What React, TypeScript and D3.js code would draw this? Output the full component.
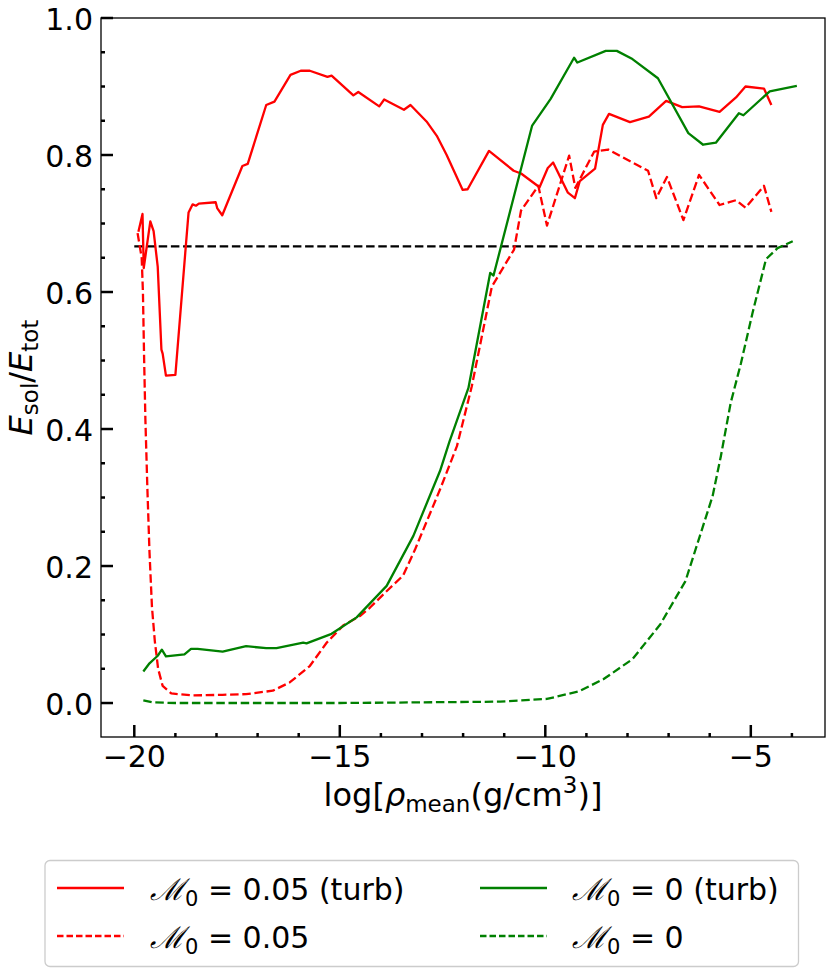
import React from 'react';
import * as d3 from 'd3';

// E_sol / E_tot versus log mean density
const redTurbX = [-19.9, -19.8, -19.77, -19.61, -19.53, -19.43, -19.34, -19.31, -19.23, -19.0, -18.76, -18.68, -18.58, -18.5, -18.43, -18.02, -17.98, -17.86, -17.37, -17.24, -16.79, -16.59, -16.2, -15.95, -15.73, -15.3, -15.2, -14.67, -14.55, -14.04, -13.92, -13.44, -13.28, -12.89, -12.64, -12.4, -12.01, -11.89, -11.37, -10.77, -10.59, -10.14, -9.94, -9.81, -9.45, -9.28, -9.16, -8.79, -8.6, -8.45, -7.94, -7.48, -7.06, -6.67, -6.26, -5.76, -5.36, -5.13, -4.68, -4.5];
const redTurbY = [0.688, 0.714, 0.635, 0.703, 0.689, 0.637, 0.516, 0.51, 0.478, 0.479, 0.657, 0.716, 0.728, 0.726, 0.729, 0.731, 0.722, 0.712, 0.784, 0.787, 0.873, 0.878, 0.917, 0.923, 0.923, 0.914, 0.916, 0.887, 0.892, 0.871, 0.881, 0.866, 0.873, 0.849, 0.828, 0.8, 0.749, 0.75, 0.806, 0.777, 0.773, 0.753, 0.781, 0.789, 0.745, 0.737, 0.762, 0.78, 0.844, 0.86, 0.848, 0.856, 0.879, 0.87, 0.871, 0.863, 0.884, 0.9, 0.897, 0.873];

const redX = [-19.92, -19.82, -19.79, -19.76, -19.73, -19.68, -19.63, -19.57, -19.5, -19.42, -19.31, -19.1, -18.58, -17.85, -17.28, -16.63, -16.22, -15.73, -15.32, -14.92, -14.51, -14.27, -13.9, -13.46, -13.17, -12.56, -12.15, -11.79, -11.3, -11.18, -10.76, -10.59, -10.17, -9.96, -9.42, -9.27, -8.81, -8.47, -7.5, -7.3, -7.04, -6.64, -6.26, -5.76, -5.36, -5.13, -4.68, -4.5];
const redY = [0.686, 0.65, 0.6, 0.5, 0.414, 0.31, 0.22, 0.14, 0.09, 0.05, 0.025, 0.014, 0.011, 0.012, 0.013, 0.018, 0.03, 0.054, 0.088, 0.113, 0.127, 0.139, 0.161, 0.186, 0.224, 0.312, 0.375, 0.462, 0.608, 0.62, 0.662, 0.719, 0.755, 0.697, 0.799, 0.752, 0.805, 0.808, 0.777, 0.737, 0.768, 0.705, 0.771, 0.727, 0.734, 0.723, 0.755, 0.717];

const greenTurbX = [-19.78, -19.63, -19.43, -19.33, -19.23, -18.78, -18.62, -18.46, -17.85, -17.28, -16.79, -16.54, -15.89, -15.81, -15.2, -14.59, -13.86, -13.21, -12.56, -12.33, -11.87, -11.34, -11.26, -10.32, -9.87, -9.3, -9.22, -8.53, -8.26, -7.88, -7.26, -6.52, -6.16, -5.85, -5.29, -5.18, -4.54, -3.88];
const greenTurbY = [0.046, 0.058, 0.069, 0.078, 0.068, 0.071, 0.079, 0.079, 0.075, 0.083, 0.08, 0.08, 0.088, 0.087, 0.101, 0.125, 0.171, 0.244, 0.339, 0.382, 0.46, 0.628, 0.624, 0.843, 0.882, 0.942, 0.935, 0.952, 0.952, 0.94, 0.912, 0.832, 0.815, 0.818, 0.861, 0.858, 0.893, 0.901];

const greenX = [-19.78, -19.55, -19.0, -17.0, -15.0, -13.0, -11.1, -9.96, -9.18, -8.58, -7.88, -7.2, -6.59, -5.93, -5.73, -5.49, -5.24, -4.96, -4.63, -4.35, -3.98];
const greenY = [0.004, 0.001, 0.0, 0.0, 0.0, 0.001, 0.002, 0.006, 0.017, 0.035, 0.064, 0.115, 0.178, 0.302, 0.36, 0.438, 0.496, 0.569, 0.648, 0.664, 0.674];

const refX = [-20, -4.1];
const refY = [2 / 3, 2 / 3];

const xTicks = [-20, -15, -10, -5];
const xMinorTicks = d3.range(-19, -3).filter((v) => v % 5 !== 0);
const yTicks = [0, 0.2, 0.4, 0.6, 0.8, 1.0];
const yMinorTicks = [0.05, 0.1, 0.15, 0.25, 0.3, 0.35, 0.45, 0.5, 0.55, 0.65, 0.7, 0.75, 0.85, 0.9, 0.95];

const FONT = 'DejaVu Sans, sans-serif';

const series = [
  { xs: redTurbX, ys: redTurbY, color: '#ff0000', dashed: false, label: '0.05 (turb)' },
  { xs: redX, ys: redY, color: '#ff0000', dashed: true, label: '0.05' },
  { xs: greenTurbX, ys: greenTurbY, color: '#008000', dashed: false, label: '0 (turb)' },
  { xs: greenX, ys: greenY, color: '#008000', dashed: true, label: '0' },
];

const Mach = ({ x, y, rest }: { x: number; y: number; rest: string }) => (
  <text x={x} y={y} fontFamily={FONT} fontSize={30} fill="#000">
    <tspan fontFamily="DejaVu Serif, serif" fontStyle="italic">ℳ</tspan>
    <tspan fontSize={21} dy={6}>0</tspan>
    <tspan dy={-6}>{' = ' + rest}</tspan>
  </text>
);

export default function App() {
  const width = 831;
  const height = 973;
  const left = 101;
  const right = 825;
  const top = 18;
  const bottom = 737;

  const x = d3.scaleLinear().domain([-20.81, -3.195]).range([left, right]);
  const y = d3.scaleLinear().domain([-0.0496, 1.0]).range([bottom, top]);

  const line = (xs: number[], ys: number[]) =>
    d3.line<number>().x((d) => x(xs[d])).y((d) => y(ys[d]))(d3.range(xs.length)) || '';

  const legendRows = [
    { s: series[0], lx: 57, ty: 900, tx: 150 },
    { s: series[1], lx: 57, ty: 948, tx: 150 },
    { s: series[2], lx: 480, ty: 900, tx: 572 },
    { s: series[3], lx: 480, ty: 948, tx: 572 },
  ];

  return (
    <svg
      width={width}
      height={height}
      style={{ position: 'absolute', left: 0, top: 0, background: '#fff' }}
    >
      <defs>
        <clipPath id="plotclip">
          <rect x={left} y={top} width={right - left} height={bottom - top} />
        </clipPath>
      </defs>

      <g clipPath="url(#plotclip)" fill="none" strokeLinejoin="round">
        <path d={line(refX, refY)} stroke="#000" strokeWidth={2.3} strokeDasharray="8.5,3.7" />
        {series.map((s, i) => (
          <path
            key={i}
            d={line(s.xs, s.ys)}
            stroke={s.color}
            strokeWidth={2.3}
            strokeDasharray={s.dashed ? '8.5,3.7' : undefined}
          />
        ))}
      </g>

      {/* frame */}
      <rect x={left} y={top} width={right - left} height={bottom - top} fill="none" stroke="#000" strokeWidth={1.3} />

      {/* x ticks */}
      {xTicks.map((t) => (
        <g key={'x' + t}>
          <line x1={x(t)} x2={x(t)} y1={bottom} y2={bottom - 12} stroke="#000" strokeWidth={2.5} />
          <text x={x(t)} y={767} textAnchor="middle" fontFamily={FONT} fontSize={30}>
            {t < 0 ? '\u2212' + Math.abs(t) : t}
          </text>
        </g>
      ))}
      {xMinorTicks.map((t) => (
        <line key={'xm' + t} x1={x(t)} x2={x(t)} y1={bottom} y2={bottom - 4} stroke="#000" strokeWidth={2.5} />
      ))}

      {/* y ticks */}
      {yTicks.map((t) => (
        <g key={'y' + t}>
          <line x1={left} x2={left + 12} y1={y(t)} y2={y(t)} stroke="#000" strokeWidth={2.5} />
          <text x={93} y={y(t) + 12} textAnchor="end" fontFamily={FONT} fontSize={30}>
            {t.toFixed(1)}
          </text>
        </g>
      ))}
      {yMinorTicks.map((t) => (
        <line key={'ym' + t} x1={left} x2={left + 4} y1={y(t)} y2={y(t)} stroke="#000" strokeWidth={2.5} />
      ))}

      {/* axis labels */}
      <text x={(left + right) / 2} y={806} textAnchor="middle" fontFamily={FONT} fontSize={32}>
        log[<tspan fontStyle="italic">ρ</tspan>
        <tspan fontSize={23} dy={6}>mean</tspan>
        <tspan dy={-6}>(g/cm</tspan>
        <tspan fontSize={23} dy={-13}>3</tspan>
        <tspan dy={13}>)]</tspan>
      </text>
      <text
        transform={`translate(32,${(top + bottom) / 2}) rotate(-90)`}
        textAnchor="middle"
        fontFamily={FONT}
        fontSize={32}
      >
        <tspan fontStyle="italic">E</tspan>
        <tspan fontSize={23} dy={6}>sol</tspan>
        <tspan dy={-6}>/</tspan>
        <tspan fontStyle="italic">E</tspan>
        <tspan fontSize={23} dy={6}>tot</tspan>
      </text>

      {/* legend */}
      <rect x={45} y={860.5} width={753.5} height={106} rx={5} fill="#fff" fillOpacity={0.8} stroke="#cccccc" strokeWidth={1.3} />
      {legendRows.map((r, i) => (
        <g key={'lg' + i}>
          <line
            x1={r.lx}
            x2={r.lx + 67}
            y1={r.ty - 12}
            y2={r.ty - 12}
            stroke={r.s.color}
            strokeWidth={2.3}
            strokeDasharray={r.s.dashed ? '6.5,3' : undefined}
          />
          <Mach x={r.tx} y={r.ty} rest={r.s.label} />
        </g>
      ))}
    </svg>
  );
}
